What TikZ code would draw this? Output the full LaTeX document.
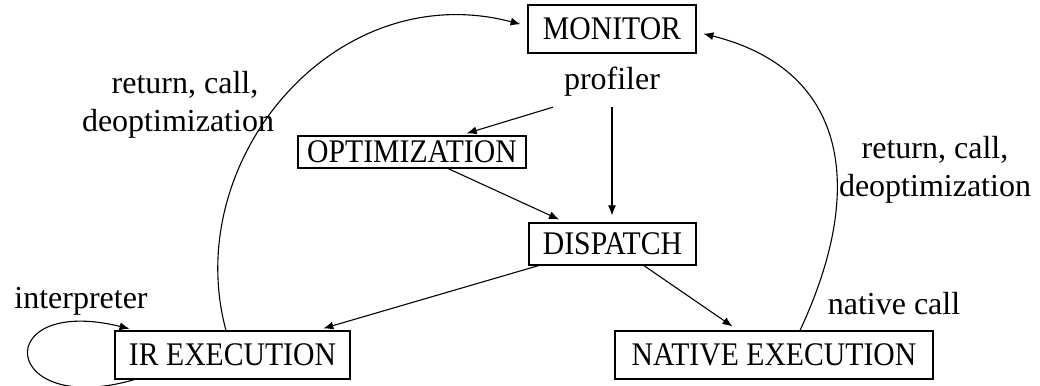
\documentclass[tikz,border=0pt]{standalone}
\usepackage{fontspec}
\setmainfont{Liberation Serif}
\newfontfamily\capsfont[FakeStretch=0.9]{Liberation Serif}
\usetikzlibrary{arrows.meta}
\begin{document}
\begin{tikzpicture}[x=1pt,y=1pt,
  box/.style={draw, line width=1.2pt, inner sep=0pt, font=\capsfont\fontsize{33}{38}\selectfont},
  lbl/.style={font=\fontsize{32}{38}\selectfont, inner sep=0pt, align=center},
  conn/.style={line width=1.1pt, -{Latex[length=10pt,width=8pt]}, shorten >=7pt}]
\useasboundingbox (0,0) rectangle (1040,385);
\node[box, minimum width=168pt, minimum height=48pt] (monitor) at (612,356) {MONITOR};
\node[box, minimum width=228pt, minimum height=32pt] (opt) at (412,233) {OPTIMIZATION};
\node[box, minimum width=167pt, minimum height=42pt] (dispatch) at (612.5,141) {DISPATCH};
\node[box, minimum width=235pt, minimum height=48pt] (ir) at (232.5,30) {IR EXECUTION};
\node[box, minimum width=318pt, minimum height=48pt] (native) at (774,30) {NATIVE EXECUTION};
\node[lbl, minimum width=118pt, minimum height=50pt] (profiler) at (612,303) {profiler};
\node[lbl] (lret) at (178,280) {\hspace*{14pt}return, call,\\deoptimization};
\node[lbl] (rret) at (935,215) {return, call,\\deoptimization};
\node[lbl] (interp) at (81,84) {interpreter};
\node[lbl] (ncall) at (894,81) {native call};
\draw[conn] (profiler.south west) -- ([xshift=48pt]opt.north);
\draw[conn] (profiler.south) -- (profiler.south |- dispatch.north);
\draw[conn] (opt) -- (dispatch);
\draw[conn] (dispatch) -- (ir);
\draw[conn] (dispatch) -- (native);
\draw[conn] ([xshift=-6.5pt]ir.north) .. controls +(-46,169) and +(-193.5,50.7) .. ([yshift=3pt]monitor.west);
\draw[conn] ([xshift=26pt]native.north) .. controls +(70,150) and +(145.5,-36.3) .. ([yshift=-3pt]monitor.east);
\draw[conn] ([xshift=20pt]ir.south west) .. controls +(-135,-39) and +(-147,36) .. ([xshift=22pt]ir.north west);
\end{tikzpicture}
\end{document}
